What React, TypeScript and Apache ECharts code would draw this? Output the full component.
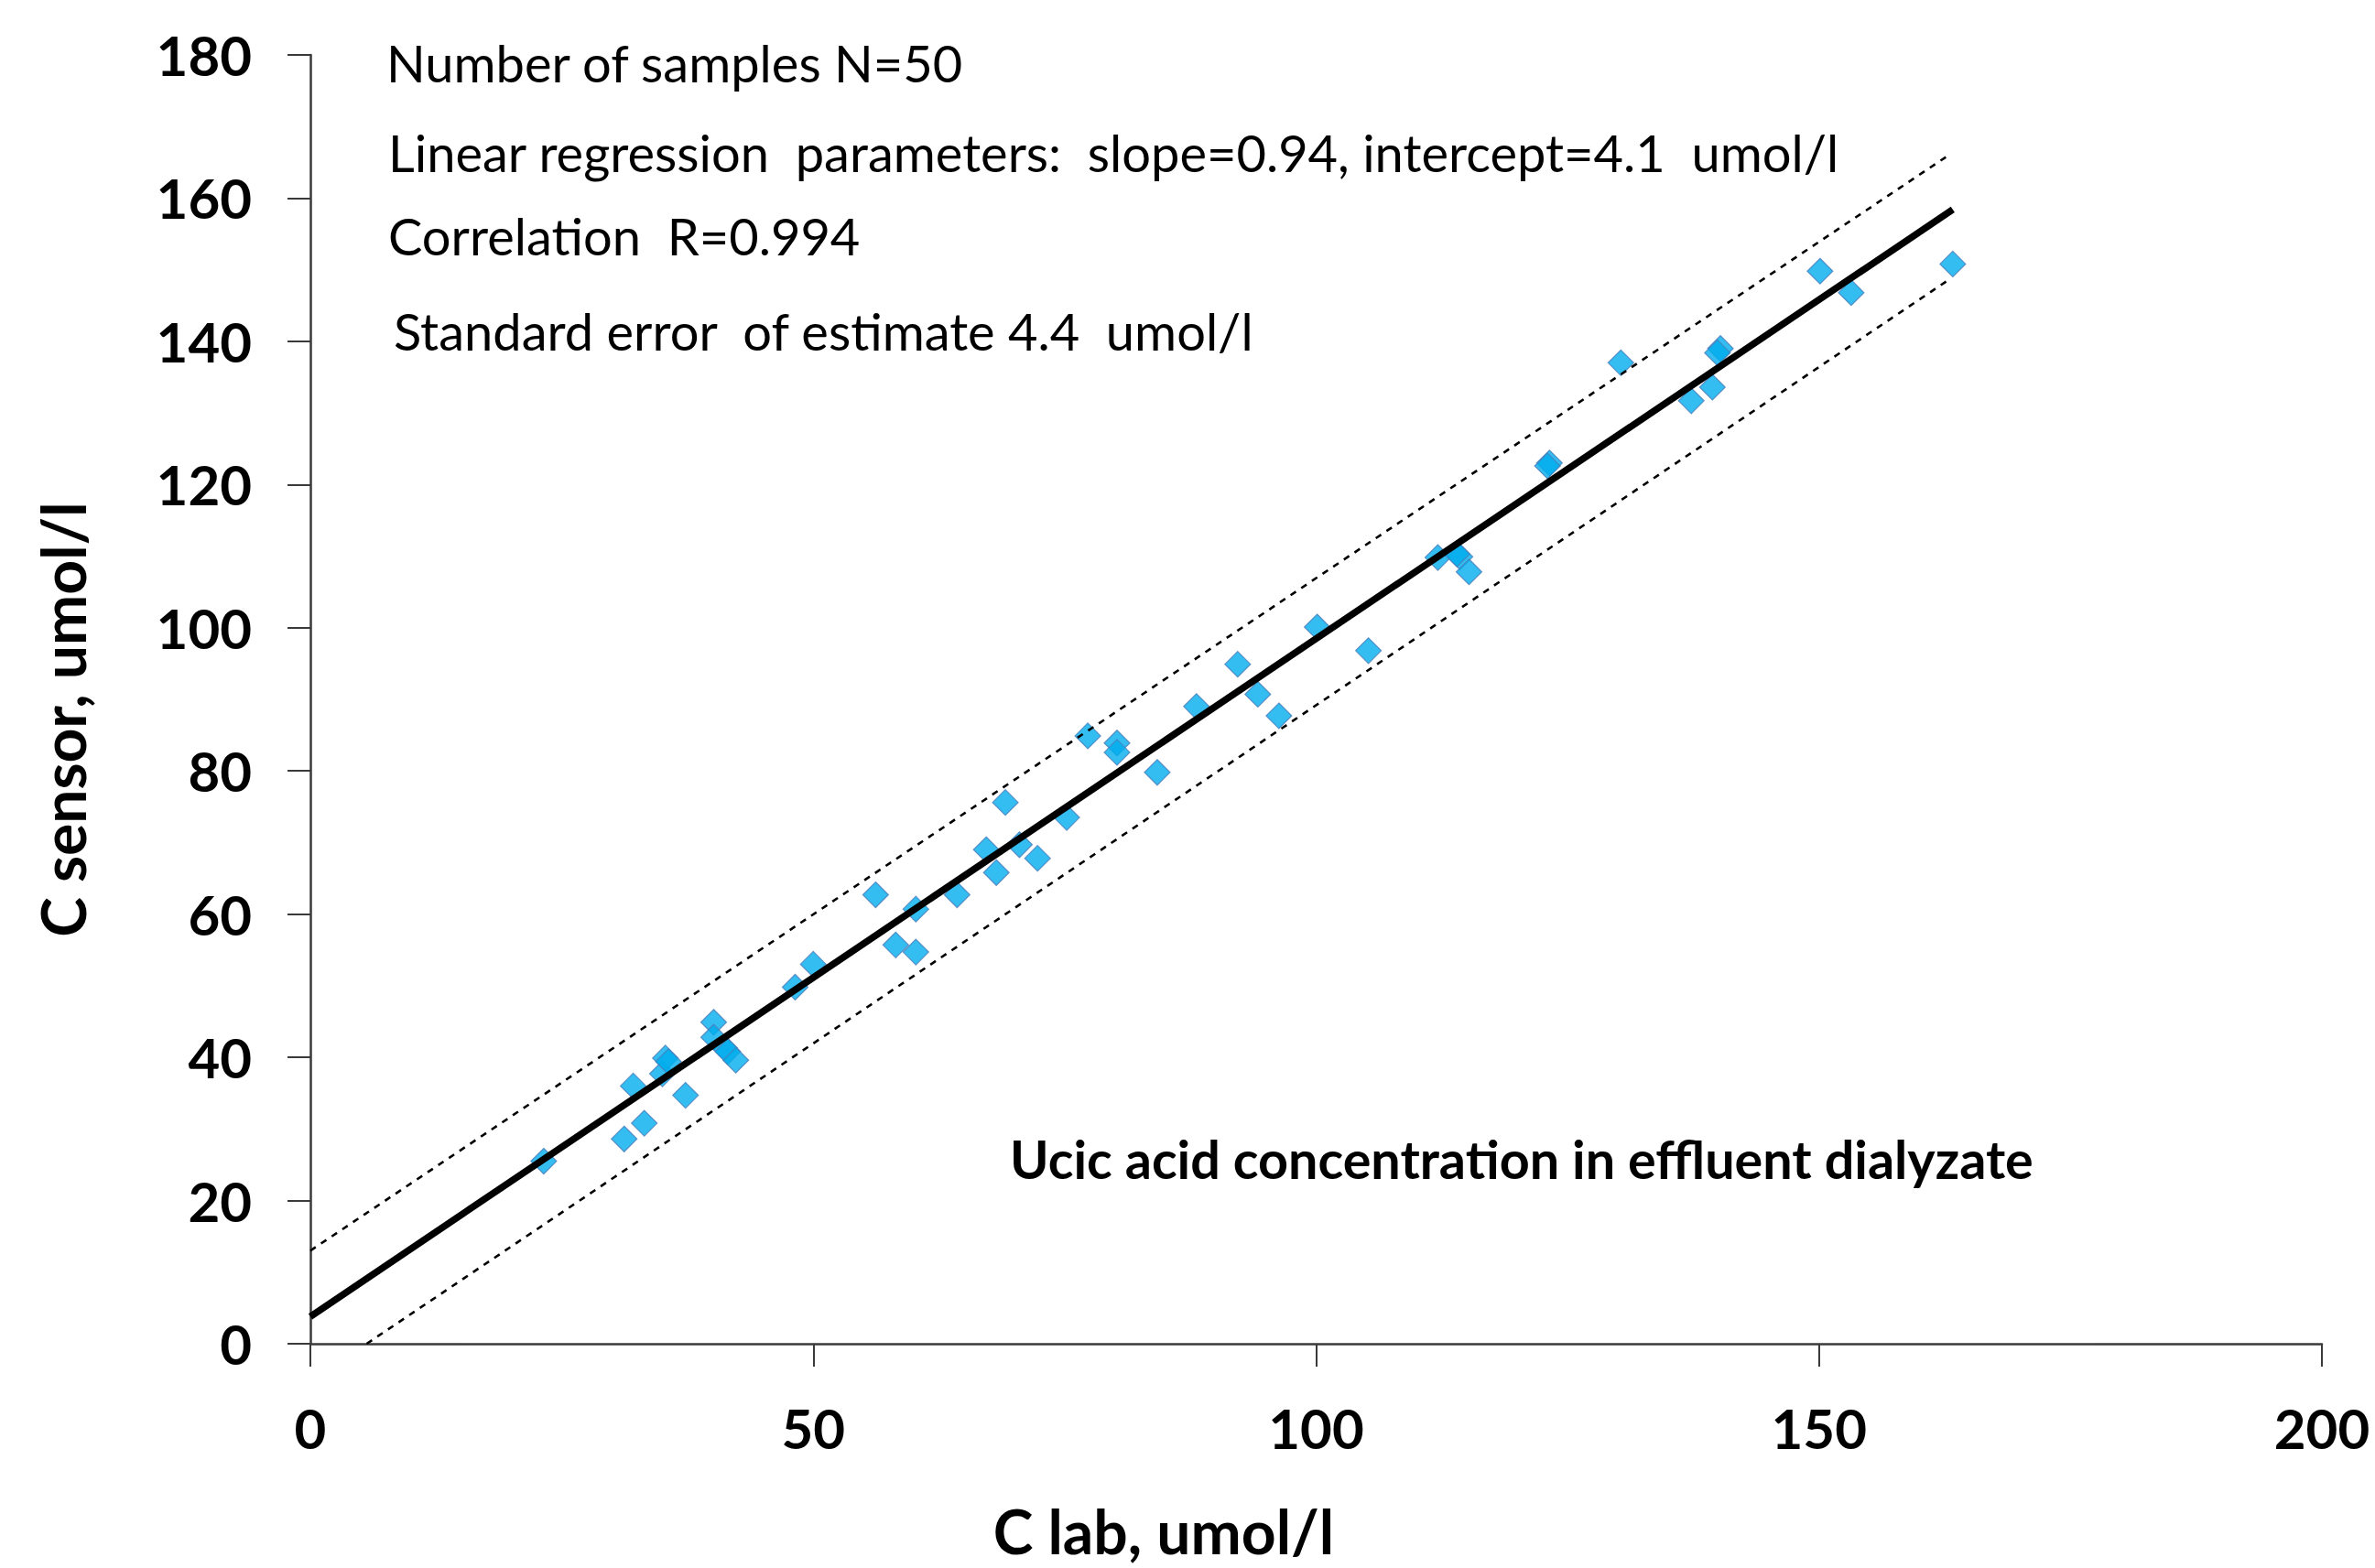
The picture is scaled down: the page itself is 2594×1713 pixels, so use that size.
import React, { useEffect, useRef } from "react";
import * as echarts from "echarts";

// Measured data: C lab (x) and C sensor (y), umol/l
const cLab = [
  23.2, 31.2, 32.1, 33.2, 35.0, 35.3, 35.6, 37.3, 40.1, 40.1,
  41.2, 41.5, 42.3, 48.2, 50.0, 56.2, 58.2, 60.2, 60.2, 64.3,
  67.2, 68.2, 69.1, 70.5, 72.3, 75.2, 77.3, 80.2, 80.2, 84.2,
  88.1, 92.2, 94.2, 96.3, 100.1, 105.2, 112.1, 114.3, 114.0, 115.2,
  123.2, 123.0, 130.3, 137.3, 139.4, 140.2, 139.9, 150.1, 153.2, 163.3,
];
const cSensor = [
  25.5, 28.6, 36.0, 30.8, 37.7, 39.9, 39.4, 34.7, 44.9, 42.8,
  41.3, 40.8, 39.6, 49.8, 53.0, 62.7, 55.7, 60.7, 54.7, 62.7,
  69.0, 65.8, 75.6, 69.7, 67.8, 73.5, 84.9, 83.9, 82.6, 79.8,
  89.0, 94.9, 90.7, 87.7, 100.1, 96.8, 109.8, 109.9, 110.3, 107.8,
  123.0, 122.6, 137.0, 131.7, 133.6, 139.0, 138.4, 149.8, 146.8, 150.8,
];

// Regression line and ±2·SEE band end points
const fitX = [0, 163.3];
const fitY = [3.8, 158.4];
const upperX = [0, 163.0];
const upperY = [13.0, 166.1];
const lowerX = [5.6, 162.9];
const lowerY = [0, 148.6];

const xTicks = { min: 0, max: 200, interval: 50 };
const yTicks = { min: 0, max: 180, interval: 20 };

const notes = [
  "Number of samples N=50",
  "Linear regression\u00A0 parameters:\u00A0 slope=0.94, intercept=4.1\u00A0 umol/l",
  "Correlation\u00A0 R=0.994",
  "Standard error\u00A0 of estimate 4.4\u00A0 umol/l",
];
const caption = "Ucic acid concentration in effluent dialyzate";
const xName = "C lab, umol/l";
const yName = "C sensor, umol/l";

const FONT = "Lato, 'Open Sans', sans-serif";

export default function App() {
  const ref = useRef<HTMLDivElement>(null);
  useEffect(() => {
    if (!ref.current) return;
    const chart = echarts.init(ref.current, undefined, { renderer: "svg" });
    const pts = cLab.map((x, i) => [x, cSensor[i]]);
    const pair = (xs: number[], ys: number[]) => xs.map((x, i) => [x, ys[i]]);
    const noteX = [422, 424, 424, 430];
    const noteY = [68, 166, 257, 361];
    const axisCommon = {
      type: "value" as const,
      splitLine: { show: false },
      axisLine: { show: true, onZero: false, lineStyle: { color: "#3a3a3a", width: 2.5 } },
      axisTick: { show: true, inside: false, length: 25, lineStyle: { color: "#3a3a3a", width: 2 } },
    };
    chart.setOption({
      animation: false,
      backgroundColor: "#ffffff",
      grid: { left: 339, right: 58, top: 60, bottom: 245, outerBoundsMode: "none", containLabel: false },
      xAxis: {
        ...axisCommon,
        min: xTicks.min,
        max: xTicks.max,
        interval: xTicks.interval,
        axisLabel: { margin: 62, fontFamily: FONT, fontWeight: "bold", fontSize: 60, color: "#000" },
      },
      yAxis: {
        ...axisCommon,
        min: yTicks.min,
        max: yTicks.max,
        interval: yTicks.interval,
        axisLabel: { margin: 64, fontFamily: FONT, fontWeight: "bold", fontSize: 60, color: "#000" },
      },
      series: [
        {
          type: "scatter",
          data: pts,
          symbol: "diamond",
          symbolSize: 28,
          itemStyle: { color: "#00ACEC", borderColor: "#4A7EBB", borderWidth: 1.2 },
          z: 2,
        },
        {
          type: "line",
          data: pair(upperX, upperY),
          symbol: "none",
          lineStyle: { color: "#000", width: 2.6, type: [7, 7] },
          z: 3,
        },
        {
          type: "line",
          data: pair(lowerX, lowerY),
          symbol: "none",
          lineStyle: { color: "#000", width: 2.6, type: [7, 7] },
          z: 3,
        },
        {
          type: "line",
          data: pair(fitX, fitY),
          symbol: "none",
          lineStyle: { color: "#000", width: 7.5 },
          z: 4,
        },
      ],
      graphic: [
        ...notes.map((t, i) => ({
          type: "text",
          x: noteX[i],
          y: noteY[i],
          style: {
            text: t,
            font: `56px ${FONT}`,
            fill: "#000",
            align: "left",
            verticalAlign: "middle",
          },
        })),
        {
          type: "text",
          x: 1103,
          y: 1265,
          style: {
            text: caption,
            font: `bold 57.5px ${FONT}`,
            fill: "#000",
            align: "left",
            verticalAlign: "middle",
          },
        },
        {
          type: "text",
          x: 1271,
          y: 1672,
          style: {
            text: xName,
            font: `bold 66px ${FONT}`,
            fill: "#000",
            align: "center",
            verticalAlign: "middle",
          },
        },
        {
          type: "text",
          x: 68,
          y: 786,
          rotation: Math.PI / 2,
          style: {
            text: yName,
            font: `bold 66px ${FONT}`,
            fill: "#000",
            align: "center",
            verticalAlign: "middle",
          },
        },
      ],
    });
    return () => chart.dispose();
  }, []);
  return (
    <div
      ref={ref}
      style={{ position: "fixed", left: 0, top: 0, width: 2594, height: 1713, background: "#fff" }}
    />
  );
}
